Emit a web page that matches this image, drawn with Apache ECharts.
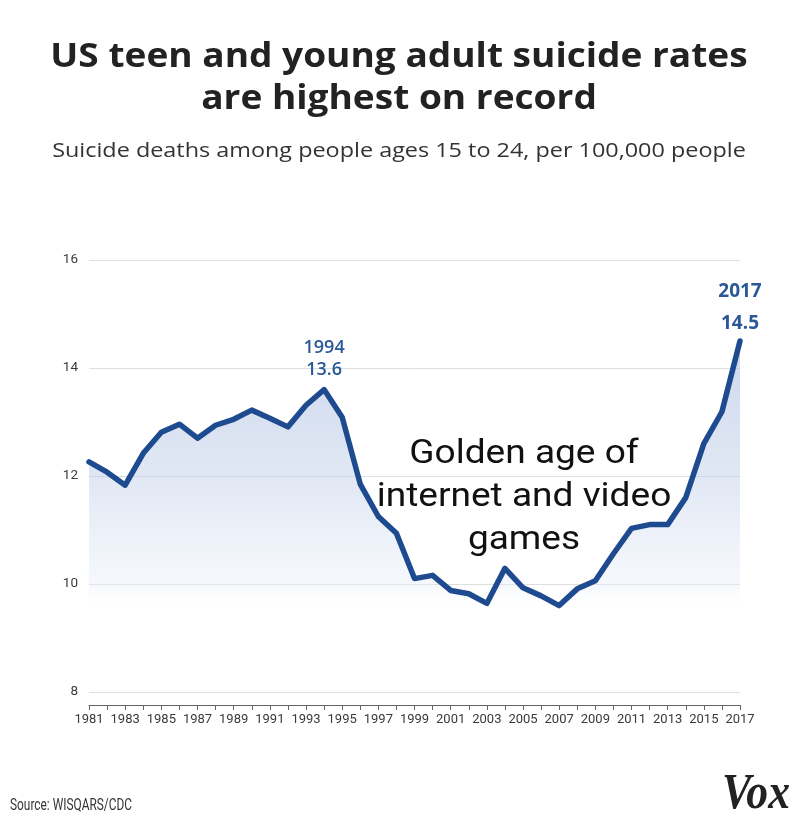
<!DOCTYPE html>
<html>
<head>
<meta charset="utf-8">
<script src="https://cdn.jsdelivr.net/npm/echarts@6/dist/echarts.min.js"></script>
<style>
html,body{margin:0;padding:0;background:#fff;}
#c{width:811px;height:835px;}
</style>
</head>
<body>
<div id="c"></div>
<script>
const years = ['1981','1982','1983','1984','1985','1986','1987','1988','1989','1990','1991','1992','1993','1994','1995','1996','1997','1998','1999','2000','2001','2002','2003','2004','2005','2006','2007','2008','2009','2010','2011','2012','2013','2014','2015','2016','2017'];
const rates = [12.26,12.07,11.83,12.42,12.81,12.96,12.70,12.94,13.05,13.22,13.07,12.91,13.31,13.6,13.09,11.85,11.25,10.94,10.10,10.16,9.88,9.82,9.64,10.29,9.93,9.78,9.60,9.91,10.06,10.56,11.03,11.10,11.10,11.60,12.60,13.19,14.5];
const yTicks = [8,10,12,14,16];
const highlights = {'1994':'normal','2017':'bold'};

const chart = echarts.init(document.getElementById('c'), null, {renderer:'canvas'});
const lineColor = '#1e4a8f';
const data = rates.map((v,i)=>{
  const y = years[i];
  if (highlights[y]) {
    const bold = highlights[y]==='bold';
    return {value:v, label:{show:true, position:'top', distance: bold?1:9,
      formatter: y+'\n'+v.toFixed(1), color:'#2b5897',
      fontFamily:'"Open Sans", Roboto, sans-serif',
      fontSize: bold?19:18, fontWeight: bold?'bold':'600', lineHeight: bold?32:22, align:'center'}};
  }
  return v;
});

chart.setOption({
  animation:false,
  grid:{left:89, right:71, top:260, bottom:143, containLabel:false},
  xAxis:{type:'category', data:years, boundaryGap:false, offset:13,
    axisLine:{show:true, lineStyle:{color:'#666', width:1}},
    axisTick:{show:true, interval:0, length:5, lineStyle:{color:'#666'}},
    axisLabel:{interval:1, color:'#3a3a3a', fontSize:13, margin:8,
      fontFamily:'Roboto, sans-serif'},
    splitLine:{show:false}},
  yAxis:{type:'value', min:8, max:16, interval:2,
    axisLine:{show:false}, axisTick:{show:false},
    axisLabel:{color:'#3a3a3a', fontSize:13.5, margin:11, formatter:v=>yTicks.includes(v)?String(v):'',
      fontFamily:'Roboto, sans-serif'},
    splitLine:{lineStyle:{color:'#dedede', width:1}}},
  series:[{
    type:'line', data:data, symbol:'circle', symbolSize:0, showSymbol:true, smooth:false,
    itemStyle:{color:lineColor},
    lineStyle:{color:lineColor, width:5.5, join:'round', cap:'round'},
    areaStyle:{color:new echarts.graphic.LinearGradient(0,0,0,1,[
      {offset:0, color:'rgba(165,185,222,0.8)'},
      {offset:0.4, color:'rgba(190,205,232,0.65)'},
      {offset:0.7, color:'rgba(228,235,247,0.5)'},
      {offset:0.76, color:'rgba(255,255,255,0)'},
      {offset:1, color:'rgba(255,255,255,0)'}])},
    z:2
  }],
  graphic:[
    {type:'text', x:399, y:36, scaleX:1.09, style:{text:'US teen and young adult suicide rates\nare highest on record',
      fontSize:34, fontWeight:'bold', lineHeight:42, align:'center', fill:'#222',
      fontFamily:'"Open Sans", Roboto, sans-serif'}},
    {type:'text', x:399, y:141, scaleX:1.17, style:{text:'Suicide deaths among people ages 15 to 24, per 100,000 people',
      fontSize:20, fill:'#333', align:'center', fontFamily:'"Open Sans", Roboto, sans-serif'}},
    {type:'text', x:524, y:433, z:10, scaleX:1.09, style:{text:'Golden age of\ninternet and video\ngames',
      fontSize:34, lineHeight:43, align:'center', fill:'#111', fontFamily:'Roboto, sans-serif',
      stroke:'#fff', lineWidth:4}},
    {type:'text', x:10, y:797, scaleX:0.72, style:{text:'Source: WISQARS/CDC', fontSize:16.5, fill:'#333',
      fontFamily:'Roboto, sans-serif'}},
    {type:'text', x:722, y:770, scaleX:0.95, scaleY:1.1, style:{text:'Vox', fontSize:46, fontWeight:'bold', fontStyle:'italic', fill:'#222',
      fontFamily:'"Liberation Serif", "DejaVu Serif", serif'}}
  ]
});
</script>
</body>
</html>
